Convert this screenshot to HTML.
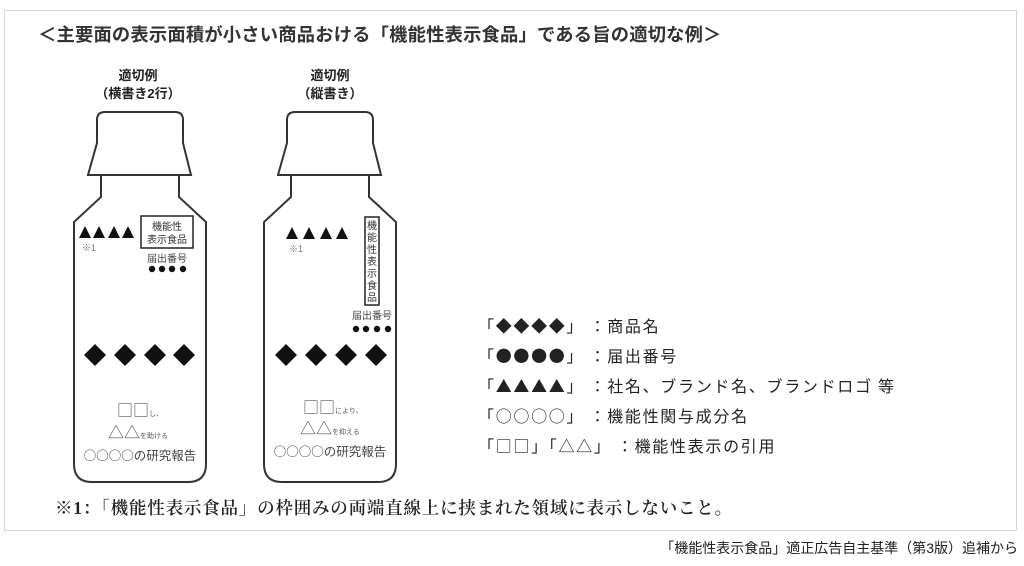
<!DOCTYPE html>
<html><head><meta charset="utf-8"><style>
body{margin:0;background:#fff;width:1024px;height:566px;overflow:hidden;position:relative;font-family:"Liberation Sans","Noto Sans CJK JP",sans-serif;color:#222}
.a{position:absolute;white-space:nowrap}
.j{font-family:"Noto Sans CJK JP",sans-serif}
</style></head><body>
<div class="a" style="left:4px;top:10px;width:1011px;height:519px;border:1px solid #d4d4d4"></div>
<div class="a" style="left:38px;top:21px;font-size:18.3px;letter-spacing:0.2px;font-weight:bold;color:#333">＜主要面の表示面積が小さい商品おける「機能性表示食品」である旨の適切な例＞</div>
<svg class="a" style="left:0;top:0" width="1024" height="566" font-family="Liberation Sans, Noto Sans CJK JP, sans-serif">
<g id="b" fill="none" stroke="#333" stroke-width="2">
<path d="M97,143 L97,120 Q97,112 105,112 L175,112 Q183,112 183,120 L183,143 L191,175 L88,175 Z"/>
<path d="M101,175 L101,197 L74,222 L74,464 Q74,482 92,482 L188,482 Q206,482 206,464 L206,222 L179,197 L179,175"/>
</g>
<use href="#b" x="190"/>
<g font-weight="bold" font-size="13" text-anchor="middle" fill="#222">
<text x="138" y="80">適切例</text><text x="138" y="98">（横書き2行）</text>
<text x="330" y="80">適切例</text><text x="330" y="98">（縦書き）</text>
</g>
<g fill="#111">
<path d="M79,238 L85,226 L91,238Z M93,238 L99,226 L105,238Z M108,238 L114,226 L120,238Z M122,238 L128,226 L134,238Z"/>
<path d="M286,239 L292,227 L298,239Z M303,239 L309,227 L315,239Z M320,239 L326,227 L332,239Z M336,239 L342,227 L348,239Z"/>
<circle cx="152" cy="269" r="3.2"/><circle cx="162" cy="269" r="3.2"/><circle cx="172" cy="269" r="3.2"/><circle cx="183" cy="269" r="3.2"/>
<circle cx="356" cy="329" r="3.2"/><circle cx="366" cy="329" r="3.2"/><circle cx="377" cy="329" r="3.2"/><circle cx="388" cy="329" r="3.2"/>
<path d="M95,344 L106,355 L95,366 L84,355Z M125,344 L136,355 L125,366 L114,355Z M155,344 L166,355 L155,366 L144,355Z M184,344 L195,355 L184,366 L173,355Z"/>
<path d="M286,344 L297,355 L286,366 L275,355Z M316,344 L327,355 L316,366 L305,355Z M346,344 L357,355 L346,366 L335,355Z M376,344 L387,355 L376,366 L365,355Z"/>
</g>
<text x="82" y="251" font-size="9" fill="#777">※1</text>
<rect x="141" y="216" width="52" height="32" fill="none" stroke="#222" stroke-width="1.5"/>
<text x="167" y="230" font-size="10" text-anchor="middle" fill="#333">機能性</text>
<text x="167" y="243" font-size="10" text-anchor="middle" fill="#333">表示食品</text>
<text x="167" y="262" font-size="10" text-anchor="middle" fill="#444">届出番号</text>
<g font-family="Noto Sans CJK JP, sans-serif" fill="#555">
<text x="117" y="416" font-size="16">□□<tspan font-size="7">し、</tspan></text>
<text x="108" y="438" font-size="16">△△<tspan font-size="7">を助ける</tspan></text>
<text x="140" y="460" font-size="12.5" text-anchor="middle" fill="#444">○○○○の研究報告</text>
<text x="303" y="413" font-size="16">□□<tspan font-size="7">により、</tspan></text>
<text x="300" y="434" font-size="16">△△<tspan font-size="7">を抑える</tspan></text>
<text x="330" y="456" font-size="12.5" text-anchor="middle" fill="#444">○○○○の研究報告</text>
</g>
<text x="289" y="252" font-size="9" fill="#777">※1</text>
<rect x="365" y="217" width="14" height="88" fill="none" stroke="#222" stroke-width="1.5"/>
<g font-size="10" text-anchor="middle" fill="#333">
<text x="372" y="229">機</text><text x="372" y="241">能</text><text x="372" y="253">性</text><text x="372" y="265">表</text><text x="372" y="277">示</text><text x="372" y="289">食</text><text x="372" y="301">品</text>
</g>
<text x="372" y="319" font-size="10" text-anchor="middle" fill="#444">届出番号</text>
</svg>
<div class="a j" style="left:478px;top:310px;font-size:16px;line-height:30px;color:#222;letter-spacing:1.7px">
<div>「<b>◆◆◆◆</b>」 ：商品名</div>
<div>「<b>●●●●</b>」 ：届出番号</div>
<div>「<b>▲▲▲▲</b>」 ：社名、ブランド名、ブランドロゴ 等</div>
<div>「○○○○」 ：機能性関与成分名</div>
<div>「□□」「△△」 ：機能性表示の引用</div>
</div>
<div class="a" style="left:55px;top:495px;font-size:17.5px;letter-spacing:0.8px;color:#222;font-family:'Liberation Serif','Noto Serif CJK SC',serif;font-weight:600">※1：「機能性表示食品」の枠囲みの両端直線上に挟まれた領域に表示しないこと。</div>
<div class="a" style="right:6px;top:538px;font-size:14px;color:#222">「機能性表示食品」適正広告自主基準（第3版）追補から</div>
</body></html>
